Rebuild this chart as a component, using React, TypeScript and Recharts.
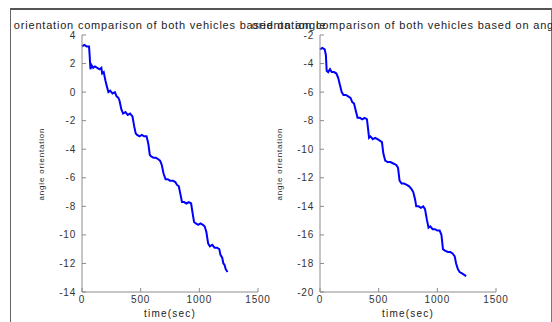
import { LineChart, Line, XAxis, YAxis } from "recharts";

// time (sec) and angle orientation
const leftTime = [
  0, 20, 40, 60, 65, 72, 80, 95, 110, 130, 150, 165, 172, 185, 200, 212, 225, 240, 260, 280,
  295, 310, 320, 335, 350, 370, 390, 410, 430, 445, 458, 470, 490, 510, 530, 550, 565, 578,
  590, 610, 630, 650, 665, 680, 695, 712, 730, 750, 775, 795, 810, 825, 840, 852, 870, 890,
  910, 930, 945, 955, 970, 990, 1010, 1030, 1045, 1060, 1075, 1090, 1110, 1130, 1150, 1170,
  1180, 1195, 1205, 1215, 1225, 1240,
];
const leftAngle = [
  3.2, 3.3, 3.2, 3.2, 2.6, 1.6, 1.9, 1.7, 1.8, 1.7, 1.6, 1.7, 1.3, 1.4, 0.8, 0.4, 0.0, 0.1, -0.1, 0.0,
  -0.3, -0.4, -0.6, -1.2, -1.5, -1.4, -1.6, -1.5, -1.7, -2.4, -2.9, -3.0, -3.1, -3.0, -3.1, -3.1, -3.6, -4.4,
  -4.5, -4.6, -4.6, -4.7, -4.8, -5.1, -5.7, -6.1, -6.1, -6.2, -6.2, -6.3, -6.5, -6.6, -7.2, -7.7, -7.7, -7.8,
  -7.7, -7.8, -8.6, -9.1, -9.2, -9.3, -9.2, -9.3, -9.4, -9.8, -10.6, -10.8, -10.7, -10.9, -10.9, -11.0,
  -11.4, -11.6, -12.0, -12.1, -12.4, -12.6,
];

const rightTime = [
  0, 20, 40, 50, 57, 70, 85, 100, 120, 140, 155, 170, 185, 200, 220, 240, 260, 275, 290, 305,
  320, 340, 360, 380, 400, 410, 418, 430, 450, 470, 490, 510, 528, 540, 556, 575, 600, 625,
  650, 665, 678, 695, 715, 740, 760, 780, 795, 810, 820, 840, 860, 880, 895, 910, 925, 940,
  960, 980, 1000, 1020, 1035, 1048, 1065, 1090, 1110, 1130, 1148, 1160, 1175, 1190, 1210,
  1230, 1245,
];
const rightAngle = [
  -3.0, -2.9, -3.0, -3.4, -4.5, -4.6, -4.4, -4.6, -4.6, -4.7, -5.0, -5.5, -6.0, -6.2, -6.2, -6.3, -6.4, -6.7, -6.8, -7.3,
  -7.8, -7.8, -7.9, -7.8, -7.9, -8.6, -9.2, -9.1, -9.3, -9.2, -9.3, -9.4, -9.5, -10.3, -10.8, -10.9, -10.9, -11.0,
  -11.1, -11.3, -12.2, -12.4, -12.4, -12.5, -12.6, -12.8, -13.0, -13.5, -14.0, -14.0, -14.1, -14.0, -14.2, -14.9, -15.5, -15.4,
  -15.6, -15.6, -15.7, -15.7, -16.0, -17.0, -17.1, -17.2, -17.2, -17.3, -17.5, -18.0, -18.4, -18.6, -18.7,
  -18.8, -18.9,
];

const xTicks = [0, 500, 1000, 1500];
const leftYTicks = [-14, -12, -10, -8, -6, -4, -2, 0, 2, 4];
const rightYTicks = [-20, -18, -16, -14, -12, -10, -8, -6, -4, -2];

const title = "orientation comparison of both vehicles based on angle";
const xLabel = "time(sec)";
const yLabel = "angle orientation";

const FONT = "'Liberation Sans', Arial, sans-serif";
const AXIS = "#8c8c8c";
const tickStyle = { fontSize: 10, fill: "#333", fontFamily: FONT, letterSpacing: 0.8 };

function Panel({ time, angle, yTicks }: { time: number[]; angle: number[]; yTicks: number[] }) {
  const data = time.map((t, i) => ({ t, v: angle[i] }));
  const domain: [number, number] = [yTicks[0], yTicks[yTicks.length - 1]];
  return (
    <LineChart
      width={300}
      height={322}
      data={data}
      margin={{ top: 35, right: 42, bottom: 0, left: 52 }}
    >
      <XAxis
        xAxisId="b"
        dataKey="t"
        type="number"
        domain={[0, 1500]}
        ticks={xTicks}
        height={30}
        stroke={AXIS}
        tickSize={-4}
        tickMargin={8}
        tick={tickStyle}
      />
      <XAxis
        xAxisId="top"
        orientation="top"
        dataKey="t"
        type="number"
        domain={[0, 1500]}
        ticks={xTicks}
        height={0}
        stroke={AXIS}
        tickSize={-4}
        tick={false}
      />
      <YAxis
        yAxisId="l"
        type="number"
        domain={domain}
        ticks={yTicks}
        width={30}
        stroke={AXIS}
        tickSize={-4}
        tickMargin={10}
        tick={tickStyle}
        allowDataOverflow
      />
      <YAxis
        yAxisId="r"
        orientation="right"
        type="number"
        domain={domain}
        ticks={yTicks}
        width={0}
        stroke={AXIS}
        tickSize={-4}
        tick={false}
        allowDataOverflow
      />
      <Line
        xAxisId="top"
        yAxisId="r"
        dataKey="v"
        stroke="none"
        dot={false}
        isAnimationActive={false}
      />
      <Line
        xAxisId="b"
        yAxisId="l"
        type="linear"
        dataKey="v"
        stroke="#0000ff"
        strokeWidth={2}
        dot={false}
        isAnimationActive={false}
      />
    </LineChart>
  );
}

const textBase: React.CSSProperties = {
  position: "absolute",
  whiteSpace: "nowrap",
  fontFamily: FONT,
  color: "#222",
  transform: "translate(-50%, -50%)",
  lineHeight: 1,
};

export default function App() {
  return (
    <div
      style={{
        position: "absolute",
        left: 0,
        top: 0,
        width: 552,
        height: 322,
        overflow: "hidden",
        background: "#fff",
      }}
    >
      <div
        style={{
          position: "absolute",
          left: 10,
          top: 8,
          width: 540,
          height: 330,
          borderTop: "2px solid #555",
          borderLeft: "1px solid #666",
          borderRight: "1px solid #777",
        }}
      />
      <div style={{ position: "absolute", left: 0, top: 0 }}>
        <Panel time={leftTime} angle={leftAngle} yTicks={leftYTicks} />
      </div>
      <div style={{ position: "absolute", left: 238, top: 0 }}>
        <Panel time={rightTime} angle={rightAngle} yTicks={rightYTicks} />
      </div>
      {[170, 408].map((cx) => (
        <div key={"t" + cx} style={{ ...textBase, left: cx, top: 25, fontSize: 11, letterSpacing: 0.8 }}>
          {title}
        </div>
      ))}
      {[170, 408].map((cx) => (
        <div key={"x" + cx} style={{ ...textBase, left: cx, top: 314, fontSize: 10, letterSpacing: 1.2 }}>
          {xLabel}
        </div>
      ))}
      {[42, 280].map((cx) => (
        <div
          key={"y" + cx}
          style={{
            ...textBase,
            left: cx,
            top: 164,
            fontSize: 8,
            letterSpacing: 0.8,
            transform: "translate(-50%, -50%) rotate(-90deg)",
          }}
        >
          {yLabel}
        </div>
      ))}
    </div>
  );
}
